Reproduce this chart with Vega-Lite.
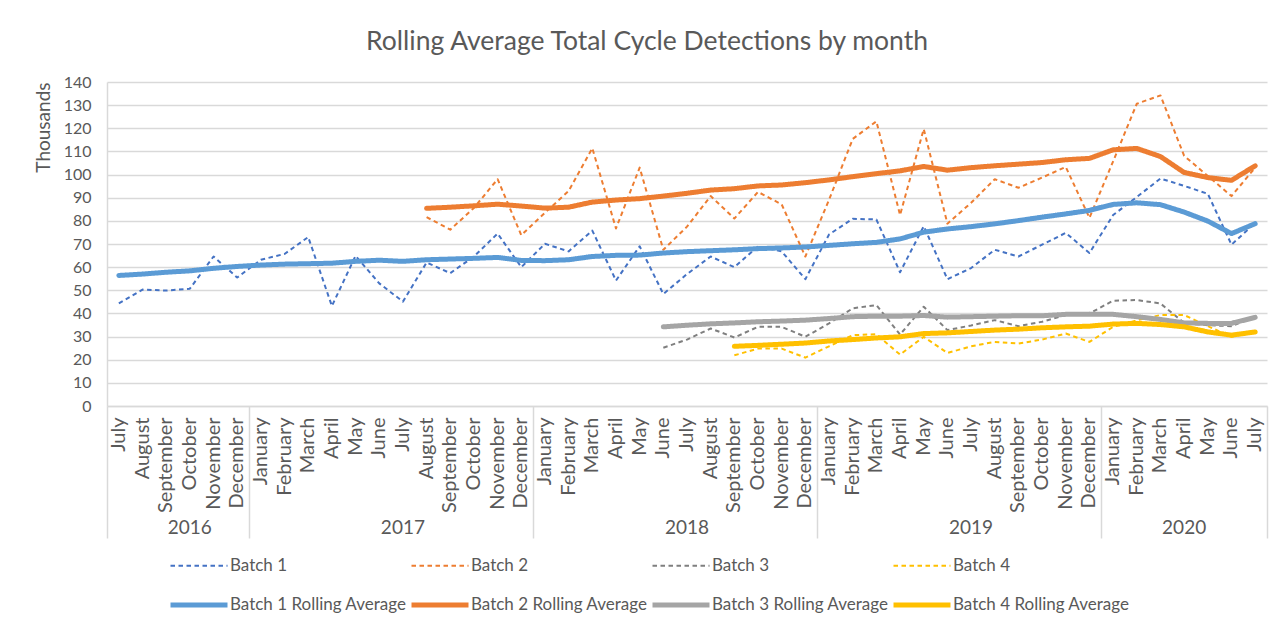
{
"$schema":"https://vega.github.io/schema/vega-lite/v6.json",
"width":1160,"height":324,
"autosize":"none",
"padding":{"left":107,"top":82,"right":21,"bottom":220},
"background":"white",
"title":{"text":"Rolling Average Total Cycle Detections by month","font":"Lato","fontSize":26.5,"fontWeight":"normal","color":"#595959","anchor":"middle","offset":19,"dx":-40},
"datasets":{"d":[
{"month":"2016-07","series":"Batch 1","value":44.3},{"month":"2016-08","series":"Batch 1","value":50.3},{"month":"2016-09","series":"Batch 1","value":49.9},{"month":"2016-10","series":"Batch 1","value":50.7},{"month":"2016-11","series":"Batch 1","value":64.6},{"month":"2016-12","series":"Batch 1","value":55.5},{"month":"2017-01","series":"Batch 1","value":63.2},{"month":"2017-02","series":"Batch 1","value":65.7},{"month":"2017-03","series":"Batch 1","value":73.0},{"month":"2017-04","series":"Batch 1","value":43.2},{"month":"2017-05","series":"Batch 1","value":64.9},{"month":"2017-06","series":"Batch 1","value":53.0},{"month":"2017-07","series":"Batch 1","value":45.1},{"month":"2017-08","series":"Batch 1","value":62.0},{"month":"2017-09","series":"Batch 1","value":57.4},{"month":"2017-10","series":"Batch 1","value":64.6},{"month":"2017-11","series":"Batch 1","value":74.5},{"month":"2017-12","series":"Batch 1","value":60.0},{"month":"2018-01","series":"Batch 1","value":70.1},{"month":"2018-02","series":"Batch 1","value":66.8},{"month":"2018-03","series":"Batch 1","value":75.8},{"month":"2018-04","series":"Batch 1","value":54.2},{"month":"2018-05","series":"Batch 1","value":69.0},{"month":"2018-06","series":"Batch 1","value":48.4},{"month":"2018-07","series":"Batch 1","value":57.0},{"month":"2018-08","series":"Batch 1","value":64.6},{"month":"2018-09","series":"Batch 1","value":60.0},{"month":"2018-10","series":"Batch 1","value":69.0},{"month":"2018-11","series":"Batch 1","value":66.8},{"month":"2018-12","series":"Batch 1","value":54.8},{"month":"2019-01","series":"Batch 1","value":74.1},{"month":"2019-02","series":"Batch 1","value":80.9},{"month":"2019-03","series":"Batch 1","value":80.6},{"month":"2019-04","series":"Batch 1","value":57.8},{"month":"2019-05","series":"Batch 1","value":77.7},{"month":"2019-06","series":"Batch 1","value":54.8},{"month":"2019-07","series":"Batch 1","value":59.6},{"month":"2019-08","series":"Batch 1","value":67.5},{"month":"2019-09","series":"Batch 1","value":64.6},{"month":"2019-10","series":"Batch 1","value":69.7},{"month":"2019-11","series":"Batch 1","value":74.8},{"month":"2019-12","series":"Batch 1","value":66.1},{"month":"2020-01","series":"Batch 1","value":82.5},{"month":"2020-02","series":"Batch 1","value":90.3},{"month":"2020-03","series":"Batch 1","value":98.3},{"month":"2020-04","series":"Batch 1","value":95.1},{"month":"2020-05","series":"Batch 1","value":91.7},{"month":"2020-06","series":"Batch 1","value":69.7},{"month":"2020-07","series":"Batch 1","value":79.1},
{"month":"2016-07","series":"Batch 1 Rolling Average","value":56.4},{"month":"2016-08","series":"Batch 1 Rolling Average","value":57.0},{"month":"2016-09","series":"Batch 1 Rolling Average","value":57.8},{"month":"2016-10","series":"Batch 1 Rolling Average","value":58.4},{"month":"2016-11","series":"Batch 1 Rolling Average","value":59.5},{"month":"2016-12","series":"Batch 1 Rolling Average","value":60.3},{"month":"2017-01","series":"Batch 1 Rolling Average","value":60.9},{"month":"2017-02","series":"Batch 1 Rolling Average","value":61.3},{"month":"2017-03","series":"Batch 1 Rolling Average","value":61.5},{"month":"2017-04","series":"Batch 1 Rolling Average","value":61.7},{"month":"2017-05","series":"Batch 1 Rolling Average","value":62.5},{"month":"2017-06","series":"Batch 1 Rolling Average","value":63.0},{"month":"2017-07","series":"Batch 1 Rolling Average","value":62.5},{"month":"2017-08","series":"Batch 1 Rolling Average","value":63.2},{"month":"2017-09","series":"Batch 1 Rolling Average","value":63.5},{"month":"2017-10","series":"Batch 1 Rolling Average","value":63.8},{"month":"2017-11","series":"Batch 1 Rolling Average","value":64.2},{"month":"2017-12","series":"Batch 1 Rolling Average","value":62.9},{"month":"2018-01","series":"Batch 1 Rolling Average","value":62.8},{"month":"2018-02","series":"Batch 1 Rolling Average","value":63.2},{"month":"2018-03","series":"Batch 1 Rolling Average","value":64.6},{"month":"2018-04","series":"Batch 1 Rolling Average","value":65.1},{"month":"2018-05","series":"Batch 1 Rolling Average","value":65.2},{"month":"2018-06","series":"Batch 1 Rolling Average","value":66.1},{"month":"2018-07","series":"Batch 1 Rolling Average","value":66.7},{"month":"2018-08","series":"Batch 1 Rolling Average","value":67.1},{"month":"2018-09","series":"Batch 1 Rolling Average","value":67.5},{"month":"2018-10","series":"Batch 1 Rolling Average","value":68.0},{"month":"2018-11","series":"Batch 1 Rolling Average","value":68.3},{"month":"2018-12","series":"Batch 1 Rolling Average","value":68.7},{"month":"2019-01","series":"Batch 1 Rolling Average","value":69.4},{"month":"2019-02","series":"Batch 1 Rolling Average","value":70.1},{"month":"2019-03","series":"Batch 1 Rolling Average","value":70.7},{"month":"2019-04","series":"Batch 1 Rolling Average","value":72.2},{"month":"2019-05","series":"Batch 1 Rolling Average","value":75.1},{"month":"2019-06","series":"Batch 1 Rolling Average","value":76.5},{"month":"2019-07","series":"Batch 1 Rolling Average","value":77.5},{"month":"2019-08","series":"Batch 1 Rolling Average","value":78.7},{"month":"2019-09","series":"Batch 1 Rolling Average","value":80.1},{"month":"2019-10","series":"Batch 1 Rolling Average","value":81.6},{"month":"2019-11","series":"Batch 1 Rolling Average","value":83.0},{"month":"2019-12","series":"Batch 1 Rolling Average","value":84.5},{"month":"2020-01","series":"Batch 1 Rolling Average","value":87.1},{"month":"2020-02","series":"Batch 1 Rolling Average","value":87.8},{"month":"2020-03","series":"Batch 1 Rolling Average","value":87.0},{"month":"2020-04","series":"Batch 1 Rolling Average","value":83.8},{"month":"2020-05","series":"Batch 1 Rolling Average","value":79.9},{"month":"2020-06","series":"Batch 1 Rolling Average","value":74.5},{"month":"2020-07","series":"Batch 1 Rolling Average","value":78.8},
{"month":"2017-08","series":"Batch 2","value":81.6},{"month":"2017-09","series":"Batch 2","value":76.2},{"month":"2017-10","series":"Batch 2","value":85.6},{"month":"2017-11","series":"Batch 2","value":98.0},{"month":"2017-12","series":"Batch 2","value":73.8},{"month":"2018-01","series":"Batch 2","value":83.5},{"month":"2018-02","series":"Batch 2","value":92.9},{"month":"2018-03","series":"Batch 2","value":111.4},{"month":"2018-04","series":"Batch 2","value":76.7},{"month":"2018-05","series":"Batch 2","value":103.0},{"month":"2018-06","series":"Batch 2","value":67.5},{"month":"2018-07","series":"Batch 2","value":77.5},{"month":"2018-08","series":"Batch 2","value":90.7},{"month":"2018-09","series":"Batch 2","value":81.0},{"month":"2018-10","series":"Batch 2","value":92.5},{"month":"2018-11","series":"Batch 2","value":87.1},{"month":"2018-12","series":"Batch 2","value":64.6},{"month":"2019-01","series":"Batch 2","value":89.1},{"month":"2019-02","series":"Batch 2","value":115.4},{"month":"2019-03","series":"Batch 2","value":123.0},{"month":"2019-04","series":"Batch 2","value":82.5},{"month":"2019-05","series":"Batch 2","value":119.7},{"month":"2019-06","series":"Batch 2","value":78.8},{"month":"2019-07","series":"Batch 2","value":87.8},{"month":"2019-08","series":"Batch 2","value":98.0},{"month":"2019-09","series":"Batch 2","value":94.3},{"month":"2019-10","series":"Batch 2","value":98.7},{"month":"2019-11","series":"Batch 2","value":103.3},{"month":"2019-12","series":"Batch 2","value":81.3},{"month":"2020-01","series":"Batch 2","value":105.7},{"month":"2020-02","series":"Batch 2","value":130.6},{"month":"2020-03","series":"Batch 2","value":134.2},{"month":"2020-04","series":"Batch 2","value":108.1},{"month":"2020-05","series":"Batch 2","value":99.4},{"month":"2020-06","series":"Batch 2","value":90.7},{"month":"2020-07","series":"Batch 2","value":103.0},
{"month":"2017-08","series":"Batch 2 Rolling Average","value":85.4},{"month":"2017-09","series":"Batch 2 Rolling Average","value":85.9},{"month":"2017-10","series":"Batch 2 Rolling Average","value":86.5},{"month":"2017-11","series":"Batch 2 Rolling Average","value":87.2},{"month":"2017-12","series":"Batch 2 Rolling Average","value":86.4},{"month":"2018-01","series":"Batch 2 Rolling Average","value":85.5},{"month":"2018-02","series":"Batch 2 Rolling Average","value":85.9},{"month":"2018-03","series":"Batch 2 Rolling Average","value":88.1},{"month":"2018-04","series":"Batch 2 Rolling Average","value":89.0},{"month":"2018-05","series":"Batch 2 Rolling Average","value":89.6},{"month":"2018-06","series":"Batch 2 Rolling Average","value":90.7},{"month":"2018-07","series":"Batch 2 Rolling Average","value":91.9},{"month":"2018-08","series":"Batch 2 Rolling Average","value":93.3},{"month":"2018-09","series":"Batch 2 Rolling Average","value":93.9},{"month":"2018-10","series":"Batch 2 Rolling Average","value":95.1},{"month":"2018-11","series":"Batch 2 Rolling Average","value":95.5},{"month":"2018-12","series":"Batch 2 Rolling Average","value":96.5},{"month":"2019-01","series":"Batch 2 Rolling Average","value":97.7},{"month":"2019-02","series":"Batch 2 Rolling Average","value":99.1},{"month":"2019-03","series":"Batch 2 Rolling Average","value":100.4},{"month":"2019-04","series":"Batch 2 Rolling Average","value":101.6},{"month":"2019-05","series":"Batch 2 Rolling Average","value":103.5},{"month":"2019-06","series":"Batch 2 Rolling Average","value":101.9},{"month":"2019-07","series":"Batch 2 Rolling Average","value":103.0},{"month":"2019-08","series":"Batch 2 Rolling Average","value":103.8},{"month":"2019-09","series":"Batch 2 Rolling Average","value":104.5},{"month":"2019-10","series":"Batch 2 Rolling Average","value":105.2},{"month":"2019-11","series":"Batch 2 Rolling Average","value":106.4},{"month":"2019-12","series":"Batch 2 Rolling Average","value":107.0},{"month":"2020-01","series":"Batch 2 Rolling Average","value":110.7},{"month":"2020-02","series":"Batch 2 Rolling Average","value":111.3},{"month":"2020-03","series":"Batch 2 Rolling Average","value":107.8},{"month":"2020-04","series":"Batch 2 Rolling Average","value":100.9},{"month":"2020-05","series":"Batch 2 Rolling Average","value":98.7},{"month":"2020-06","series":"Batch 2 Rolling Average","value":97.5},{"month":"2020-07","series":"Batch 2 Rolling Average","value":103.8},
{"month":"2018-06","series":"Batch 3","value":25.2},{"month":"2018-07","series":"Batch 3","value":28.7},{"month":"2018-08","series":"Batch 3","value":33.5},{"month":"2018-09","series":"Batch 3","value":29.6},{"month":"2018-10","series":"Batch 3","value":34.2},{"month":"2018-11","series":"Batch 3","value":34.2},{"month":"2018-12","series":"Batch 3","value":29.9},{"month":"2019-01","series":"Batch 3","value":35.7},{"month":"2019-02","series":"Batch 3","value":42.2},{"month":"2019-03","series":"Batch 3","value":43.6},{"month":"2019-04","series":"Batch 3","value":30.9},{"month":"2019-05","series":"Batch 3","value":42.9},{"month":"2019-06","series":"Batch 3","value":32.8},{"month":"2019-07","series":"Batch 3","value":34.8},{"month":"2019-08","series":"Batch 3","value":37.1},{"month":"2019-09","series":"Batch 3","value":34.5},{"month":"2019-10","series":"Batch 3","value":36.4},{"month":"2019-11","series":"Batch 3","value":39.3},{"month":"2019-12","series":"Batch 3","value":40.0},{"month":"2020-01","series":"Batch 3","value":45.5},{"month":"2020-02","series":"Batch 3","value":45.8},{"month":"2020-03","series":"Batch 3","value":44.3},{"month":"2020-04","series":"Batch 3","value":35.9},{"month":"2020-05","series":"Batch 3","value":34.9},{"month":"2020-06","series":"Batch 3","value":34.5},{"month":"2020-07","series":"Batch 3","value":38.6},
{"month":"2018-06","series":"Batch 3 Rolling Average","value":34.2},{"month":"2018-07","series":"Batch 3 Rolling Average","value":34.9},{"month":"2018-08","series":"Batch 3 Rolling Average","value":35.5},{"month":"2018-09","series":"Batch 3 Rolling Average","value":35.9},{"month":"2018-10","series":"Batch 3 Rolling Average","value":36.4},{"month":"2018-11","series":"Batch 3 Rolling Average","value":36.7},{"month":"2018-12","series":"Batch 3 Rolling Average","value":37.1},{"month":"2019-01","series":"Batch 3 Rolling Average","value":37.8},{"month":"2019-02","series":"Batch 3 Rolling Average","value":38.6},{"month":"2019-03","series":"Batch 3 Rolling Average","value":38.8},{"month":"2019-04","series":"Batch 3 Rolling Average","value":38.8},{"month":"2019-05","series":"Batch 3 Rolling Average","value":39.1},{"month":"2019-06","series":"Batch 3 Rolling Average","value":38.4},{"month":"2019-07","series":"Batch 3 Rolling Average","value":38.6},{"month":"2019-08","series":"Batch 3 Rolling Average","value":38.8},{"month":"2019-09","series":"Batch 3 Rolling Average","value":39.0},{"month":"2019-10","series":"Batch 3 Rolling Average","value":39.0},{"month":"2019-11","series":"Batch 3 Rolling Average","value":39.6},{"month":"2019-12","series":"Batch 3 Rolling Average","value":39.7},{"month":"2020-01","series":"Batch 3 Rolling Average","value":39.6},{"month":"2020-02","series":"Batch 3 Rolling Average","value":38.6},{"month":"2020-03","series":"Batch 3 Rolling Average","value":37.4},{"month":"2020-04","series":"Batch 3 Rolling Average","value":35.9},{"month":"2020-05","series":"Batch 3 Rolling Average","value":35.7},{"month":"2020-06","series":"Batch 3 Rolling Average","value":35.7},{"month":"2020-07","series":"Batch 3 Rolling Average","value":38.3},
{"month":"2018-09","series":"Batch 4","value":21.9},{"month":"2018-10","series":"Batch 4","value":24.8},{"month":"2018-11","series":"Batch 4","value":24.8},{"month":"2018-12","series":"Batch 4","value":20.9},{"month":"2019-01","series":"Batch 4","value":25.8},{"month":"2019-02","series":"Batch 4","value":30.6},{"month":"2019-03","series":"Batch 4","value":31.0},{"month":"2019-04","series":"Batch 4","value":22.2},{"month":"2019-05","series":"Batch 4","value":29.9},{"month":"2019-06","series":"Batch 4","value":22.9},{"month":"2019-07","series":"Batch 4","value":25.8},{"month":"2019-08","series":"Batch 4","value":27.7},{"month":"2019-09","series":"Batch 4","value":27.0},{"month":"2019-10","series":"Batch 4","value":28.7},{"month":"2019-11","series":"Batch 4","value":31.3},{"month":"2019-12","series":"Batch 4","value":27.7},{"month":"2020-01","series":"Batch 4","value":34.2},{"month":"2020-02","series":"Batch 4","value":37.0},{"month":"2020-03","series":"Batch 4","value":39.3},{"month":"2020-04","series":"Batch 4","value":39.3},{"month":"2020-05","series":"Batch 4","value":34.5},{"month":"2020-06","series":"Batch 4","value":29.9},{"month":"2020-07","series":"Batch 4","value":32.0},
{"month":"2018-09","series":"Batch 4 Rolling Average","value":25.8},{"month":"2018-10","series":"Batch 4 Rolling Average","value":26.2},{"month":"2018-11","series":"Batch 4 Rolling Average","value":26.7},{"month":"2018-12","series":"Batch 4 Rolling Average","value":27.2},{"month":"2019-01","series":"Batch 4 Rolling Average","value":28.1},{"month":"2019-02","series":"Batch 4 Rolling Average","value":28.7},{"month":"2019-03","series":"Batch 4 Rolling Average","value":29.4},{"month":"2019-04","series":"Batch 4 Rolling Average","value":29.9},{"month":"2019-05","series":"Batch 4 Rolling Average","value":31.3},{"month":"2019-06","series":"Batch 4 Rolling Average","value":31.6},{"month":"2019-07","series":"Batch 4 Rolling Average","value":32.2},{"month":"2019-08","series":"Batch 4 Rolling Average","value":32.8},{"month":"2019-09","series":"Batch 4 Rolling Average","value":33.2},{"month":"2019-10","series":"Batch 4 Rolling Average","value":33.8},{"month":"2019-11","series":"Batch 4 Rolling Average","value":34.2},{"month":"2019-12","series":"Batch 4 Rolling Average","value":34.5},{"month":"2020-01","series":"Batch 4 Rolling Average","value":35.4},{"month":"2020-02","series":"Batch 4 Rolling Average","value":35.7},{"month":"2020-03","series":"Batch 4 Rolling Average","value":35.2},{"month":"2020-04","series":"Batch 4 Rolling Average","value":34.2},{"month":"2020-05","series":"Batch 4 Rolling Average","value":32.0},{"month":"2020-06","series":"Batch 4 Rolling Average","value":30.6},{"month":"2020-07","series":"Batch 4 Rolling Average","value":32.0}
]},
"data":{"name":"d"},
"layer":[
{"transform":[{"filter":"indexof(datum.series,'Rolling')<0"}],
 "mark":{"type":"line","strokeJoin":"round"},
 "encoding":{
  "x":{"field":"month","type":"ordinal","bandPosition":0.5,"scale":{"type":"band","paddingInner":0,"paddingOuter":0},
   "axis":{"orient":"bottom","title":null,"labelExpr":"['January','February','March','April','May','June','July','August','September','October','November','December'][toNumber(slice(datum.value,5,7))-1]","labelAngle":270,"labelAlign":"right","labelBaseline":"middle","labelFont":"Lato","labelFontSize":20,"labelColor":"#595959","labelPadding":11,"ticks":false,"domain":true,"domainColor":"#d9d9d9","domainWidth":1.5,"grid":false,"labelOverlap":false}},
  "y":{"field":"value","type":"quantitative","scale":{"domain":[0,140],"nice":false},
   "axis":{"title":"Thousands","titleAnchor":"end","titleFont":"Lato","titleFontSize":19,"titleFontWeight":"normal","titleColor":"#595959","titlePadding":10,"values":[0,10,20,30,40,50,60,70,80,90,100,110,120,130,140],"labelOverlap":false,"labelFont":"Lato","labelFontSize":16,"labelColor":"#595959","labelPadding":16,"ticks":false,"domainColor":"#d9d9d9","domainWidth":1.5,"gridColor":"#d9d9d9","gridWidth":1.5}},
  "color":{"field":"series","type":"nominal",
   "scale":{"domain":["Batch 1","Batch 2","Batch 3","Batch 4","Batch 1 Rolling Average","Batch 2 Rolling Average","Batch 3 Rolling Average","Batch 4 Rolling Average"],"range":["#4472C4","#ED7D31","#7F7F7F","#FFC000","#5B9BD5","#ED7D31","#A5A5A5","#FFC000"]},
   "legend":{"title":null,"orient":"none","legendX":61,"legendY":454,"direction":"horizontal","columns":4,"symbolType":"stroke","symbolSize":3249,"labelFont":"Lato","labelFontSize":17,"labelColor":"#595959","labelLimit":400,"labelOffset":0,"columnPadding":-6,"rowPadding":-30}},
  "strokeDash":{"field":"series","type":"nominal",
   "scale":{"domain":["Batch 1","Batch 2","Batch 3","Batch 4","Batch 1 Rolling Average","Batch 2 Rolling Average","Batch 3 Rolling Average","Batch 4 Rolling Average"],"range":[[4.5,3.5],[4.5,3.5],[4.5,3.5],[4.5,3.5],[1,0],[1,0],[1,0],[1,0]]}},
  "strokeWidth":{"field":"series","type":"nominal",
   "scale":{"type":"ordinal","domain":["Batch 1","Batch 2","Batch 3","Batch 4","Batch 1 Rolling Average","Batch 2 Rolling Average","Batch 3 Rolling Average","Batch 4 Rolling Average"],"range":[2,2,2,2,5,5,5,5]}}
 }},
{"transform":[{"filter":"indexof(datum.series,'Rolling')>=0"}],
 "mark":{"type":"line","strokeJoin":"round","strokeCap":"round"},
 "encoding":{
  "x":{"field":"month","type":"ordinal","bandPosition":0.5,"scale":{"type":"band","paddingInner":0,"paddingOuter":0},
   "axis":{"orient":"bottom","title":null,"values":["2016-10","2017-07","2018-07","2019-07"],"bandPosition":0,"labelExpr":"slice(datum.value,0,4)","labelAngle":0,"labelAlign":"center","labelBaseline":"top","labelFont":"Lato","labelFontSize":19,"labelColor":"#595959","labelPadding":0,"ticks":false,"domain":false,"grid":false,"offset":112}},
  "y":{"field":"value","type":"quantitative","scale":{"domain":[0,140],"nice":false},
   "axis":{"title":"Thousands","titleAnchor":"end","titleFont":"Lato","titleFontSize":19,"titleFontWeight":"normal","titleColor":"#595959","titlePadding":10,"values":[0,10,20,30,40,50,60,70,80,90,100,110,120,130,140],"labelOverlap":false,"labelFont":"Lato","labelFontSize":16,"labelColor":"#595959","labelPadding":16,"ticks":false,"domainColor":"#d9d9d9","domainWidth":1.5,"gridColor":"#d9d9d9","gridWidth":1.5}},
  "color":{"field":"series","type":"nominal",
   "scale":{"domain":["Batch 1","Batch 2","Batch 3","Batch 4","Batch 1 Rolling Average","Batch 2 Rolling Average","Batch 3 Rolling Average","Batch 4 Rolling Average"],"range":["#4472C4","#ED7D31","#7F7F7F","#FFC000","#5B9BD5","#ED7D31","#A5A5A5","#FFC000"]},
   "legend":{"title":null,"orient":"none","legendX":61,"legendY":454,"direction":"horizontal","columns":4,"symbolType":"stroke","symbolSize":3249,"labelFont":"Lato","labelFontSize":17,"labelColor":"#595959","labelLimit":400,"labelOffset":0,"columnPadding":-6,"rowPadding":-30}},
  "strokeDash":{"field":"series","type":"nominal",
   "scale":{"domain":["Batch 1","Batch 2","Batch 3","Batch 4","Batch 1 Rolling Average","Batch 2 Rolling Average","Batch 3 Rolling Average","Batch 4 Rolling Average"],"range":[[4.5,3.5],[4.5,3.5],[4.5,3.5],[4.5,3.5],[1,0],[1,0],[1,0],[1,0]]}},
  "strokeWidth":{"field":"series","type":"nominal",
   "scale":{"type":"ordinal","domain":["Batch 1","Batch 2","Batch 3","Batch 4","Batch 1 Rolling Average","Batch 2 Rolling Average","Batch 3 Rolling Average","Batch 4 Rolling Average"],"range":[2,2,2,2,5,5,5,5]}}
 }},
{"transform":[{"filter":"false"}],
 "mark":"point",
 "encoding":{
  "x":{"field":"month","type":"ordinal","scale":{"type":"band","paddingInner":0,"paddingOuter":0},
   "axis":{"orient":"bottom","title":null,"values":["2020-04"],"labelExpr":"slice(datum.value,0,4)","labelAngle":0,"labelAlign":"center","labelBaseline":"top","labelFont":"Lato","labelFontSize":19,"labelColor":"#595959","labelPadding":0,"ticks":false,"domain":false,"grid":false,"offset":112}}
 }},
{"transform":[{"filter":"false"}],
 "mark":"point",
 "encoding":{
  "x":{"field":"month","type":"ordinal","scale":{"type":"band","paddingInner":0,"paddingOuter":0},
   "axis":{"orient":"bottom","title":null,"values":["2016-07","2017-01","2018-01","2019-01","2020-01"],"bandPosition":0,"labels":false,"ticks":true,"tickSize":132,"tickColor":"#d9d9d9","tickWidth":1.5,"domain":false,"grid":false}}
 }},
{"transform":[{"filter":"false"}],
 "mark":"point",
 "encoding":{
  "x":{"field":"month","type":"ordinal","scale":{"type":"band","paddingInner":0,"paddingOuter":0},
   "axis":{"orient":"bottom","title":null,"values":["2020-07"],"bandPosition":1,"labels":false,"ticks":true,"tickSize":132,"tickColor":"#d9d9d9","tickWidth":1.5,"domain":false,"grid":false}}
 }}
],
"resolve":{"axis":{"x":"independent"}},
"config":{"view":{"stroke":null},"font":"Lato"}
}
